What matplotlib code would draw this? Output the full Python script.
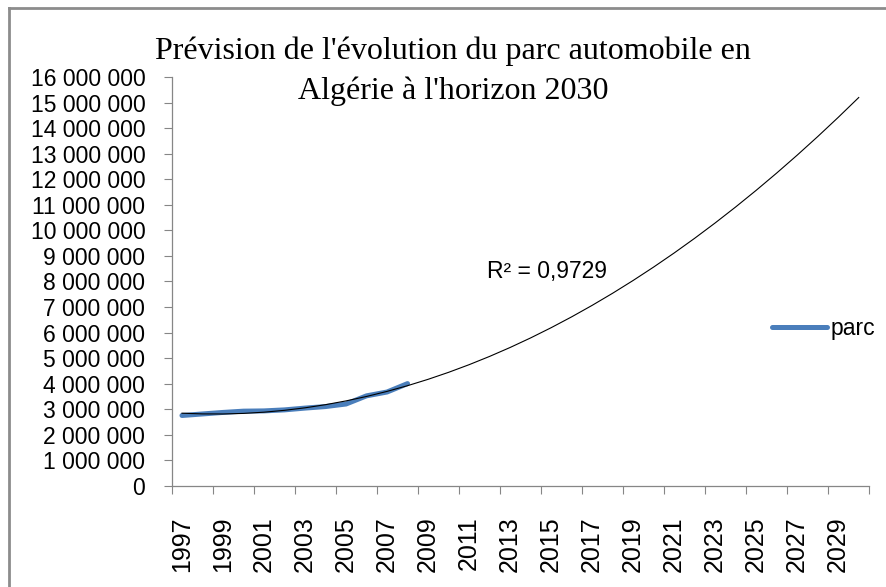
#%%
import numpy as np
import matplotlib
matplotlib.use("Agg")
import matplotlib.pyplot as plt
from matplotlib.lines import Line2D
from matplotlib.ticker import FuncFormatter, FixedLocator

#%% Données
annees_obs = [1997, 1998, 1999, 2000, 2001, 2002, 2003, 2004, 2005, 2006, 2007, 2008]
parc = [2750000, 2810000, 2870000, 2920000, 2930000, 2970000,
        3040000, 3100000, 3200000, 3520000, 3670000, 4000000]
annees = list(range(1997, 2031))
r2_label = "R² = 0,9729"
titre = "Prévision de l'évolution du parc automobile en\nAlgérie à l'horizon 2030"

#%% Tendance polynomiale (ordre 2), prolongée jusqu'en 2030
idx_obs = np.arange(len(annees_obs))
idx_all = np.arange(len(annees))
coef = np.polyfit(idx_obs, parc, 2)
tendance = np.polyval(coef, idx_all)

#%% Figure
plt.rcParams['font.family'] = ['Liberation Sans', 'DejaVu Sans']
fig = plt.figure(figsize=(8.86, 5.87), dpi=100)
ax = fig.add_axes([0.1938, 0.1726, 0.9808 - 0.1938, 0.8683 - 0.1726])

ax.plot(idx_obs, parc, color='#4A7EBB', linewidth=3.6, solid_capstyle='round',
        label='parc', zorder=2)
ax.plot(idx_all, tendance, color='black', linewidth=0.8, zorder=3)

ax.set_xlim(-0.5, len(annees) - 0.5)
ax.set_ylim(0, 16000000)
ax.set_yticks(np.arange(0, 16000001, 1000000))
ax.yaxis.set_major_formatter(FuncFormatter(lambda v, p: f"{int(v):,}".replace(",", " ")))

# graduations aux limites de catégories, étiquettes une année sur deux
ax.xaxis.set_major_locator(FixedLocator(np.arange(-0.5, len(annees), 2)))
ax.xaxis.set_minor_locator(FixedLocator(idx_all[::2]))
ax.xaxis.set_major_formatter(FuncFormatter(lambda v, p: ""))
ax.xaxis.set_minor_formatter(FuncFormatter(lambda v, p: str(annees[int(round(v))])))
ax.tick_params(axis='x', which='major', length=5.5, color='#868686', width=0.8)
ax.tick_params(axis='x', which='minor', length=0, pad=22, labelsize=18,
               labelrotation=90)
ax.tick_params(axis='y', length=5.5, color='#868686', width=0.8, pad=13.5,
               labelsize=16.5)

for s in ['top', 'right']:
    ax.spines[s].set_visible(False)
for s in ['left', 'bottom']:
    ax.spines[s].set_color('#868686')
    ax.spines[s].set_linewidth(0.9)

ax.text(487 / 886, 1 - 278 / 587, r2_label, transform=fig.transFigure,
        fontsize=16.5, va='baseline', ha='left')

fig.text(453 / 886, 1 - 37 / 587, titre, ha='center', va='top',
         fontsize=23, family=['Liberation Serif', 'DejaVu Serif'],
         linespacing=1.45)

ax.legend(loc='center left', bbox_to_anchor=(772 / 886, 1 - 329 / 587),
          bbox_transform=fig.transFigure, frameon=False, fontsize=16.5,
          handlelength=2.4, handletextpad=0.15, borderpad=0, borderaxespad=0)

# cadre du graphique
fig.add_artist(Line2D([9 / 886, 9 / 886], [0, 1 - 8 / 587], transform=fig.transFigure,
                      color='#8C8C8C', linewidth=2))
fig.add_artist(Line2D([9 / 886, 1], [1 - 8 / 587, 1 - 8 / 587], transform=fig.transFigure,
                      color='#8C8C8C', linewidth=2))

fig.savefig("out.png", dpi=100)
